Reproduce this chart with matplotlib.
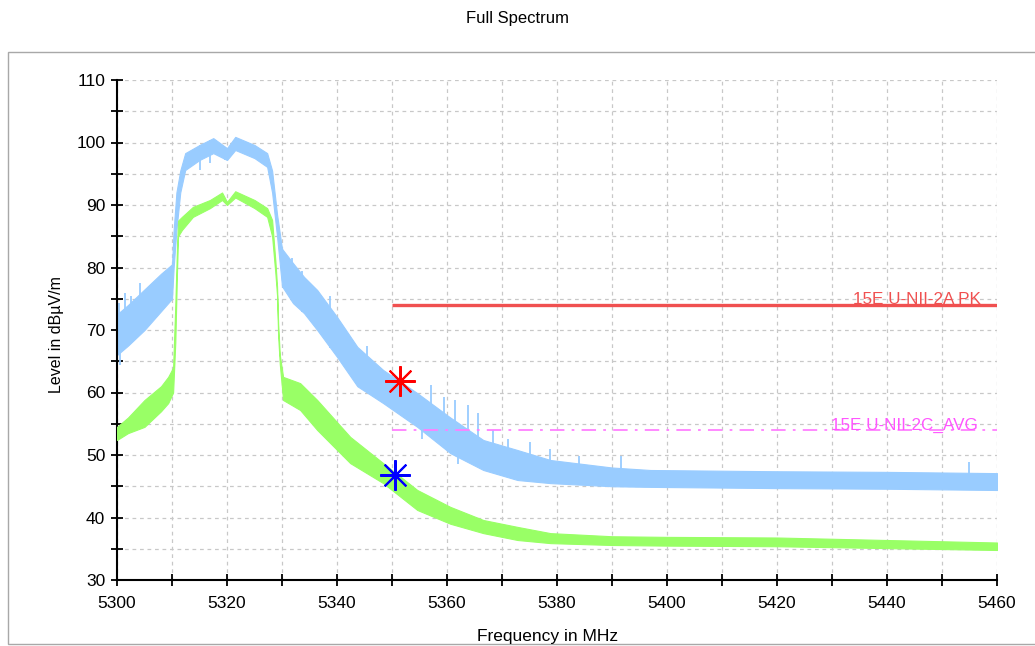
import numpy as np
import matplotlib
matplotlib.use("Agg")
from matplotlib import pyplot as plt
from matplotlib.patches import Rectangle
from matplotlib.ticker import MultipleLocator

plt.rcParams['font.family'] = ['Liberation Sans', 'DejaVu Sans']

# peak trace envelope (MHz, lower dBuV/m, upper dBuV/m)
pk_freq = [5300, 5302, 5305, 5308, 5310, 5310.3, 5310.8, 5311.5, 5312.4, 5315,
           5317.5, 5320, 5321.5, 5325, 5327.3, 5328.2, 5329.1, 5330, 5332, 5334,
           5336.4, 5340, 5343.7, 5348.4, 5354.6, 5360.6, 5366.6, 5372.8, 5378.8,
           5390, 5397, 5420, 5440, 5460]
pk_low = [66, 67.5, 70, 73, 75, 80, 86, 92, 95.6, 97.2,
          98.3, 97.2, 98.8, 97.5, 96.1, 92, 85, 77, 74.3, 72.7,
          70, 65.7, 61, 58.3, 54.5, 50.3, 47.6, 46, 45.5,
          45, 44.9, 44.7, 44.6, 44.4]
pk_high = [72.5, 74, 76.5, 79, 80.5, 86, 92, 95.5, 98.3, 99.6,
           100.7, 99.1, 100.9, 99.6, 98.3, 95.5, 88.5, 83, 80.7, 78.5,
           76.4, 72.1, 67.3, 63.6, 59.9, 56, 52.4, 50.8, 49.2,
           48, 47.6, 47.4, 47.3, 47.1]

# isolated spikes above the peak trace
pk_spike_freq = [5300.3, 5301.5, 5302.6, 5304.2, 5331.8, 5333.7, 5338.8, 5345.5,
                 5357.0, 5359.5, 5361.5, 5363.9, 5365.7, 5368.3, 5371.0, 5375.0,
                 5378.8, 5384.0, 5391.7, 5454.9]
pk_spike_top = [74.3, 76.0, 75.5, 77.5, 81.5, 79.5, 75.5, 67.5,
                61.2, 59.3, 58.8, 58.0, 56.7, 54.0, 52.5, 52.1,
                51.0, 49.8, 49.8, 48.9]
# isolated dips below the peak trace
pk_dip_freq = [5300.5, 5315.1, 5316.9, 5319.7, 5323.7, 5355.5, 5362.0]
pk_dip_bottom = [64.4, 95.6, 96.7, 97.2, 98.0, 52.5, 48.5]

# average trace envelope
av_freq = [5300, 5302, 5305, 5308, 5309.3, 5310.2, 5310.6, 5310.9, 5311.1, 5311.8,
           5313.8, 5316.9, 5319.1, 5320, 5321.5, 5325, 5327.3, 5328.2, 5328.8,
           5329.1, 5329.3, 5329.6, 5330.2, 5333.3, 5336.4, 5342.4, 5348.4, 5354.6,
           5360.6, 5366.6, 5372.8, 5378.8, 5390, 5400, 5420, 5440, 5460]
av_low = [52.4, 53.5, 54.5, 57, 58.3, 60, 68, 79, 85, 86,
          88.1, 89.5, 90.8, 90, 91.2, 89.5, 88.1, 85, 79,
          75.5, 69, 64.5, 58.8, 57.2, 54, 48.7, 45.5, 41.2,
          39, 37.5, 36.4, 35.9, 35.6, 35.5, 35.4, 35.1, 34.8]
av_high = [54.5, 56, 58.8, 61, 62.5, 64, 74, 83, 87.5, 88.1,
           89.7, 90.8, 92, 90.5, 92.2, 90.8, 89.5, 87.6, 81,
           77, 71, 66, 62.5, 61.5, 58.8, 52.9, 48.7, 44.4,
           41.7, 39.6, 38.5, 37.5, 37, 36.9, 36.8, 36.4, 36]

# limit lines
pk_limit = 74
av_limit = 54
limit_start = 5350
limit_end = 5460

# worst-case markers
pk_mark = (5351.5, 61.8)
av_mark = (5350.6, 46.8)

blue = '#99ccff'
green = '#99ff66'

fig = plt.figure(figsize=(10.35, 6.46), dpi=100)
fig.patches.append(Rectangle((8 / 1035, 1 - 644 / 646), 1.2, (644 - 52) / 646,
                             transform=fig.transFigure, facecolor='white',
                             edgecolor='#a8a8a8', linewidth=1.0, zorder=-10))
fig.text(0.5, 1 - 18 / 646, 'Full Spectrum', ha='center', va='center', fontsize=12)

ax = fig.add_axes([117 / 1035, 1 - 580 / 646, (997 - 117) / 1035, (580 - 80) / 646])
ax.set_facecolor('none')

ax.fill_between(pk_freq, pk_low, pk_high, color=blue, linewidth=0.8,
                edgecolor=blue, zorder=2)
ax.vlines(pk_spike_freq, np.interp(pk_spike_freq, pk_freq, pk_low), pk_spike_top,
          color=blue, linewidth=1.3, zorder=2)
ax.vlines(pk_dip_freq, pk_dip_bottom, np.interp(pk_dip_freq, pk_freq, pk_high),
          color=blue, linewidth=1.3, zorder=2)
ax.fill_between(av_freq, av_low, av_high, color=green, linewidth=0.8,
                edgecolor=green, zorder=3)

ax.hlines(pk_limit, limit_start, limit_end, color='#f05050', linewidth=2.4, zorder=4)
ax.hlines(av_limit, limit_start, limit_end, color='#ff80ff', linewidth=1.3,
          linestyles=(0, (8, 4, 1.5, 4)), zorder=4)
ax.text(5457, pk_limit + 0.2, '15E U-NII-2A PK', color='#f05050', fontsize=12.3,
        ha='right', va='baseline', zorder=5)
ax.text(5456.5, av_limit + 0.1, '15E U-NII-2C_AVG', color='#ff55ff', fontsize=12.3,
        ha='right', va='baseline', zorder=5)

ax.plot(*pk_mark, marker=(8, 2, 0), color='red', markersize=22, mew=1.5, zorder=6)
ax.plot(*av_mark, marker=(8, 2, 0), color='blue', markersize=22, mew=1.5, zorder=6)

ax.set_xlim(5300, 5460)
ax.set_ylim(30, 110)
ax.xaxis.set_major_locator(MultipleLocator(20))
ax.xaxis.set_minor_locator(MultipleLocator(10))
ax.yaxis.set_major_locator(MultipleLocator(10))
ax.yaxis.set_minor_locator(MultipleLocator(5))
ax.grid(True, which='both', color='#c8c8c8', linestyle=(0, (3, 3)), linewidth=0.9)
ax.set_axisbelow(True)
ax.tick_params(which='both', direction='inout', length=9, width=1.3, colors='black',
               labelsize=12.5, pad=4)
ax.tick_params(axis='x', pad=7)
for s in ['top', 'right']:
    ax.spines[s].set_visible(False)
for s in ['left', 'bottom']:
    ax.spines[s].set_linewidth(1.5)

ax.set_xlabel('Frequency in MHz', fontsize=12.5)
ax.xaxis.set_label_coords(0.489, -0.097)
ax.set_ylabel('Level in dBµV/m', fontsize=11.5)
ax.yaxis.set_label_coords(-0.06, 0.49)

fig.savefig('out.png', dpi=100)
